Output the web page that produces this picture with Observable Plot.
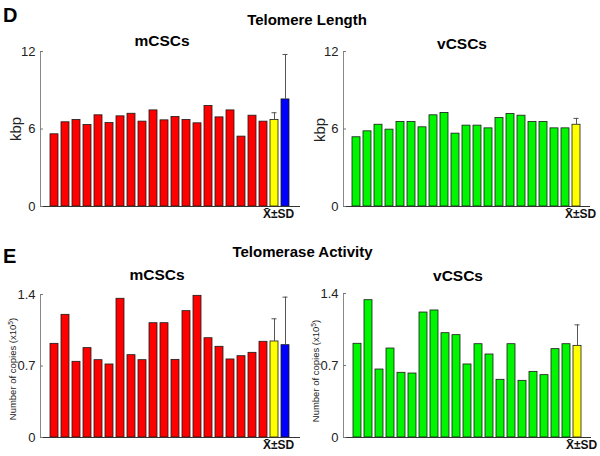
<!DOCTYPE html>
<html><head><meta charset="utf-8">
<script src="https://cdn.jsdelivr.net/npm/d3@7"></script>
<script src="https://cdn.jsdelivr.net/npm/@observablehq/plot@0.6"></script>
<style>
body{margin:0;background:#fff;}
#root{position:relative;width:600px;height:456px;font-family:"Liberation Sans",Arial,sans-serif;overflow:hidden;background:#fff}
.t{position:absolute;white-space:nowrap;line-height:1;font-weight:bold;color:#000}
.c{transform:translateX(-50%)}
.yl{position:absolute;white-space:nowrap;line-height:1;transform:translate(-50%,-50%) rotate(-90deg);color:#222}
.p{position:absolute}
</style></head><body><div id="root"></div>
<script>
// ---- data ----
const cellIds = ["1","2","3","4","5","6","7","8","9","10","11","12","13","14","15","16","17","18","19","20"];
const meanLabel = "X\u0304±SD";
const ticksLength = [0, 6, 12];
const ticksActivity = [0, 0.7, 1.4];

// Telomere length (kbp)
const mcscLength = [5.59, 6.52, 6.70, 6.31, 7.06, 6.46, 6.98, 7.18, 6.57, 7.44, 6.67, 6.93, 6.70, 6.44, 7.78, 6.90, 7.44, 5.41, 7.03, 6.57];
const mcscLengthMean = 6.70, mcscLengthSD = 0.56;
const mcscLengthOther = 8.29, mcscLengthOtherSD = 3.48;
const vcscLength = [5.36, 5.82, 6.33, 5.95, 6.54, 6.54, 6.13, 7.06, 7.24, 5.64, 6.26, 6.26, 6.05, 6.85, 7.16, 7.03, 6.54, 6.54, 6.05, 6.05];
const vcscLengthMean = 6.33, vcscLengthSD = 0.49;

// Telomerase activity (copies x10^5)
const mcscActivity = [0.917, 1.201, 0.741, 0.875, 0.757, 0.715, 1.358, 0.806, 0.757, 1.119, 1.119, 0.760, 1.237, 1.387, 0.972, 0.888, 0.764, 0.796, 0.829, 0.937];
const mcscActivityMean = 0.940, mcscActivitySD = 0.222;
const mcscActivityOther = 0.904, mcscActivityOtherSD = 0.470;
const vcscActivity = [0.911, 1.335, 0.661, 0.865, 0.629, 0.622, 1.215, 1.235, 1.014, 0.995, 0.710, 0.907, 0.807, 0.561, 0.907, 0.551, 0.638, 0.606, 0.859, 0.907];
const vcscActivityMean = 0.891, vcscActivitySD = 0.204;

const RED = "#ff0000", GREEN = "#00f500", YELLOW = "#ffff00", BLUE = "#0000ff";

function panel(o) {
  const rows = o.values.map((v, i) => ({cat: cellIds[i], value: v, kind: "cell"}));
  rows.push({cat: "mean", value: o.mean, sd: o.sd, kind: "mean"});
  if (o.other != null) rows.push({cat: "other", value: o.other, sd: o.otherSD, kind: "other"});
  const err = rows.filter(d => d.sd != null);
  return Plot.plot({
    width: 300, height: 228,
    marginTop: o.mt, marginBottom: o.mb, marginLeft: o.ml, marginRight: o.mr,
    style: {fontFamily: '"Liberation Sans", Arial, sans-serif', fontSize: "13px", color: "#222", background: "transparent", overflow: "visible"},
    x: {domain: rows.map(d => d.cat), paddingInner: 0.25, paddingOuter: o.po},
    y: {domain: o.yDomain},
    color: {domain: ["cell", "mean", "other"], range: [o.color, YELLOW, BLUE]},
    marks: [
      Plot.barY(rows, {x: "cat", y: "value", fill: "kind", stroke: "#1a1a1a", strokeWidth: 0.8}),
      Plot.ruleX(err, {x: "cat", y1: "value", y2: d => d.value + d.sd, stroke: "#555", strokeWidth: 1}),
      Plot.tickY(err, {x: "cat", y: d => d.value + d.sd, stroke: "#555", insetLeft: 1.5, insetRight: 1.5}),
      Plot.frame({anchor: "left", stroke: "#888"}),
      Plot.ruleY([0], {stroke: "#333"}),
      // inward tick marks
      Plot.axisY({ticks: o.yTicks, tickSize: 3, dx: 3, tickFormat: () => "", stroke: "#777", label: null}),
      // tick labels
      Plot.axisY({ticks: o.yTicks, tickSize: 0, tickPadding: 5, tickFormat: d => String(d), fill: "#222", label: null, fontSize: 13}),
      Plot.axisX({ticks: ["mean"], tickFormat: () => meanLabel, tickSize: 0, tickPadding: 3, dx: 4, fontWeight: "bold", fontSize: 12, fill: "#111", label: null})
    ]
  });
}

const root = document.getElementById("root");
function place(el, left, top) {
  const d = document.createElement("div");
  d.className = "p"; d.style.left = left + "px"; d.style.top = top + "px";
  d.appendChild(el); root.appendChild(d);
}
function text(html, cls, css) {
  const d = document.createElement("div");
  d.className = cls; d.innerHTML = html;
  Object.assign(d.style, css); root.appendChild(d);
}

place(panel({values: mcscLength, mean: mcscLengthMean, sd: mcscLengthSD, other: mcscLengthOther, otherSD: mcscLengthOtherSD,
  color: RED, yDomain: [0, 12], yTicks: ticksLength, mt: 51, mb: 22, ml: 40, mr: 0, po: 0.47}), 0, 0);
place(panel({values: vcscLength, mean: vcscLengthMean, sd: vcscLengthSD,
  color: GREEN, yDomain: [0, 12], yTicks: ticksLength, mt: 51, mb: 22, ml: 43, mr: 10, po: 0.57}), 300, 0);
place(panel({values: mcscActivity, mean: mcscActivityMean, sd: mcscActivitySD, other: mcscActivityOther, otherSD: mcscActivityOtherSD,
  color: RED, yDomain: [0, 1.4], yTicks: ticksActivity, mt: 66, mb: 19, ml: 40, mr: 0, po: 0.47}), 0, 228);
place(panel({values: vcscActivity, mean: vcscActivityMean, sd: vcscActivitySD,
  color: GREEN, yDomain: [0, 1.4], yTicks: ticksActivity, mt: 65, mb: 19, ml: 43, mr: 9, po: 0.57}), 300, 228);

// titles
text("D", "t", {left: "3px", top: "4.5px", fontSize: "20px"});
text("E", "t", {left: "3px", top: "246px", fontSize: "20px"});
text("Telomere Length", "t c", {left: "307px", top: "12px", fontSize: "15px"});
text("Telomerase Activity", "t c", {left: "302.5px", top: "243.5px", fontSize: "15px"});
text("mCSCs", "t c", {left: "162px", top: "32.5px", fontSize: "15.5px"});
text("vCSCs", "t c", {left: "462px", top: "35.5px", fontSize: "15.5px"});
text("mCSCs", "t c", {left: "157px", top: "266.7px", fontSize: "15.5px"});
text("vCSCs", "t c", {left: "458px", top: "267.7px", fontSize: "15.5px"});
// y labels
text("kbp", "yl", {left: "14.5px", top: "128.5px", fontSize: "15px"});
text("kbp", "yl", {left: "319px", top: "130px", fontSize: "15px"});
text("Number of copies (x10<sup style='font-size:70%;vertical-align:0.45em;line-height:0'>5</sup>)", "yl", {left: "13px", top: "369px", fontSize: "9.5px"});
text("Number of copies (x10<sup style='font-size:70%;vertical-align:0.45em;line-height:0'>5</sup>)", "yl", {left: "316px", top: "371px", fontSize: "9.5px"});
</script>
</body></html>
